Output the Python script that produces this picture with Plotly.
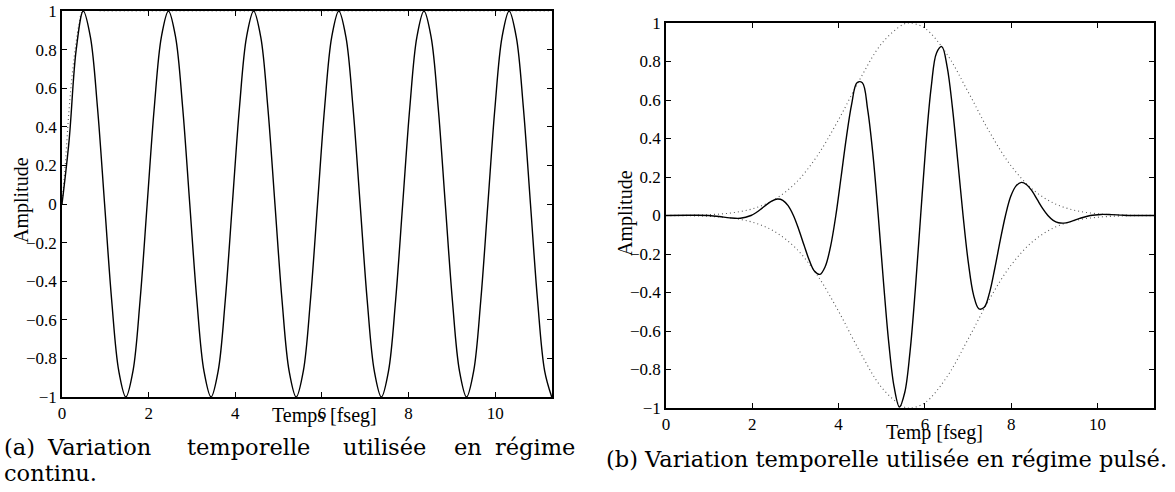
import plotly.graph_objects as go

W, H = 1175, 492

# ---------------- data ----------------
x_ticks = [0, 2, 4, 6, 8, 10]
y_ticks = [-1, -0.8, -0.6, -0.4, -0.2, 0, 0.2, 0.4, 0.6, 0.8, 1]
y_tick_text = ["\u22121", "\u22120.8", "\u22120.6", "\u22120.4", "\u22120.2", "0",
               "0.2", "0.4", "0.6", "0.8", "1"]
x_max = 11.31

# (a) continuous regime: field (solid) and switch-on envelope (dotted)
cw_t = [0.000, 0.164, 0.328, 0.491, 0.655, 0.819, 0.983, 1.147, 1.311, 1.474, 1.638, 1.802,
        1.966, 2.130, 2.294, 2.457, 2.621, 2.785, 2.949, 3.113, 3.277, 3.440, 3.604, 3.768,
        3.932, 4.096, 4.260, 4.423, 4.587, 4.751, 4.915, 5.079, 5.243, 5.406, 5.570, 5.734,
        5.898, 6.062, 6.226, 6.389, 6.553, 6.717, 6.881, 7.045, 7.209, 7.372, 7.536, 7.700,
        7.864, 8.028, 8.192, 8.355, 8.519, 8.683, 8.847, 9.011, 9.175, 9.338, 9.502, 9.666,
        9.830, 9.994, 10.158, 10.321, 10.485, 10.649, 10.813, 10.977, 11.141, 11.304]
cw_amp = [0, 0.33, 0.80, 1, 0.866, 0.5, 0, -0.5, -0.866, -1, -0.866, -0.5,
          0, 0.5, 0.866, 1, 0.866, 0.5, 0, -0.5, -0.866, -1, -0.866, -0.5,
          0, 0.5, 0.866, 1, 0.866, 0.5, 0, -0.5, -0.866, -1, -0.866, -0.5,
          0, 0.5, 0.866, 1, 0.866, 0.5, 0, -0.5, -0.866, -1, -0.866, -0.5,
          0, 0.5, 0.866, 1, 0.866, 0.5, 0, -0.5, -0.866, -1, -0.866, -0.5,
          0, 0.5, 0.866, 1, 0.866, 0.5, 0, -0.5, -0.866, -1]
cw_env_t = [0, 0.08, 0.16, 0.24, 0.32, 0.40, 0.48, 1.0, 11.31]
cw_env = [0, 0.22, 0.48, 0.68, 0.83, 0.94, 1.0, 1.0, 1.0]

# (b) pulsed regime: field (solid) and Gaussian envelope (dotted)
pl_t = [0.0, 0.495, 0.741, 0.987, 1.232, 1.478, 1.724, 1.970, 2.092, 2.215, 2.338, 2.461,
        2.584, 2.707, 2.830, 2.953, 3.075, 3.198, 3.321, 3.444, 3.567, 3.690, 3.813,
        3.936, 4.058, 4.181, 4.304, 4.427, 4.550, 4.673, 4.796, 4.919, 5.041, 5.164,
        5.287, 5.410, 5.533, 5.656, 5.779, 5.902, 6.024, 6.147, 6.270, 6.393, 6.516,
        6.639, 6.762, 6.885, 7.007, 7.130, 7.253, 7.376, 7.499, 7.622, 7.745, 7.868,
        7.990, 8.113, 8.236, 8.359, 8.482, 8.605, 8.728, 8.851, 8.973, 9.096, 9.219,
        9.342, 9.588, 9.834, 10.079, 10.325, 10.571, 10.817, 11.31]
pl_amp = [0, 0.0012, 0.0016, 0, -0.0051, -0.0124, -0.0144, 0, 0.0156, 0.0358, 0.0576,
          0.0762, 0.0854, 0.0788, 0.0510, 0, -0.0712, -0.1535, -0.2326, -0.2897, -0.3058,
          -0.2653, -0.1617, 0, 0.2001, 0.4062, 0.5796, 0.690, 0.690, 0.5514, 0.3164, 0,
          -0.3470, -0.6632, -0.8907, -0.995, -0.9197, -0.707, -0.3819, 0, 0.3712, 0.6678,
          0.8444, 0.8775, 0.7726, 0.5592, 0.2843, 0, -0.2449, -0.4149, -0.485, -0.477,
          -0.4005, -0.2728, -0.1306, 0, 0.0997, 0.154, 0.172, 0.160, 0.1280, 0.0821,
          0.0370, 0, -0.0250, -0.0375, -0.0396, -0.0344, -0.0153, 0, 0.0055, 0.0044,
          0.0017, 0, 0]
env_t = [0, 0.5, 1.0, 1.5, 2.0, 2.5, 3.0, 3.5, 4.0, 4.5, 5.0, 5.5, 5.67, 6.0, 6.5, 7.0,
         7.5, 8.0, 8.5, 9.0, 9.5, 10.0, 10.5, 11.0, 11.31]
env_up = [0.0003, 0.0013, 0.0043, 0.0130, 0.0345, 0.0810, 0.168, 0.308, 0.498, 0.710,
          0.894, 0.993, 1.0, 0.973, 0.842, 0.643, 0.433, 0.257, 0.135, 0.0625, 0.0255,
          0.0092, 0.0029, 0.0008, 0.0004]
env_low = [-0.0003, -0.0013, -0.0043, -0.0130, -0.0345, -0.0810, -0.168, -0.308, -0.498,
           -0.710, -0.894, -0.993, -1.0, -0.973, -0.842, -0.643, -0.433, -0.257, -0.135,
           -0.0625, -0.0255, -0.0092, -0.0029, -0.0008, -0.0004]

x_title_a = "Temps [fseg]"
x_title_b = "Temp [fseg]"
y_title = "Amplitude"
caption_a_words = ["(a)", "Variation", "temporelle", "utilisée", "en", "régime"]
caption_a_line2 = "continu."
caption_b = "(b) Variation temporelle utilisée en régime pulsé."

# ---------------- figure ----------------
def px_x(p):
    return p / W

def px_y(p):
    return 1 - p / H

DOT = dict(color="#5a5a5a", width=1.1, dash="1px,3px", shape="spline")
SOLID = dict(color="black", width=1.4, shape="spline")

fig = go.Figure()
fig.add_trace(go.Scatter(x=cw_env_t, y=cw_env, mode="lines", line=DOT,
                         xaxis="x", yaxis="y"))
fig.add_trace(go.Scatter(x=cw_t, y=cw_amp, mode="lines", line=SOLID, xaxis="x", yaxis="y"))
fig.add_trace(go.Scatter(x=env_t, y=env_up, mode="lines", line=DOT,
                         xaxis="x2", yaxis="y2"))
fig.add_trace(go.Scatter(x=env_t, y=env_low, mode="lines", line=DOT,
                         xaxis="x2", yaxis="y2"))
fig.add_trace(go.Scatter(x=pl_t, y=pl_amp, mode="lines", line=SOLID, xaxis="x2", yaxis="y2"))

SERIF = "Liberation Serif, Times New Roman, serif"
tickfont = dict(family=SERIF, size=17, color="black")
common_x = dict(range=[0, x_max], tickvals=x_ticks, ticks="inside", ticklen=5,
                tickcolor="black", tickwidth=1, showline=True, linecolor="black",
                linewidth=1.5, mirror="ticks", showgrid=False, zeroline=False,
                tickfont=tickfont, automargin=False)
common_y = dict(range=[-1, 1], tickvals=y_ticks, ticktext=y_tick_text, ticks="inside",
                ticklen=5, tickcolor="black", tickwidth=1, showline=True,
                linecolor="black", linewidth=1.5, mirror="ticks", showgrid=False,
                zeroline=False, tickfont=tickfont, automargin=False)

fig.update_layout(
    template="none",
    width=W, height=H,
    margin=dict(l=0, r=0, t=0, b=0, autoexpand=False),
    paper_bgcolor="white", plot_bgcolor="white",
    showlegend=False,
    xaxis=dict(domain=[px_x(62), px_x(552)], anchor="y", **common_x),
    yaxis=dict(domain=[px_y(397), px_y(11)], anchor="x", **common_y),
    xaxis2=dict(domain=[px_x(666), px_x(1154)], anchor="y2", **common_x),
    yaxis2=dict(domain=[px_y(408), px_y(23)], anchor="x2", **common_y),
)

title_font = dict(family=SERIF, size=20, color="black")
ann = [
    dict(text=y_title, x=px_x(21), y=px_y(200), textangle=-90, font=title_font),
    dict(text=y_title, x=px_x(626), y=px_y(213), textangle=-90, font=title_font),
    dict(text=x_title_a, x=px_x(324), y=px_y(415), font=title_font),
    dict(text=x_title_b, x=px_x(934), y=px_y(432), font=title_font),
]

cap_font = dict(family="DejaVu Serif", size=22.5, color="black")
cap_pos = [(2, "left"), (99, "center"), (248, "center"), (384, "center"),
           (468, "center"), (577, "right")]
for word, (xp, anchor) in zip(caption_a_words, cap_pos):
    ann.append(dict(text=word, x=px_x(xp), y=px_y(447), xanchor=anchor, font=cap_font))
ann.append(dict(text=caption_a_line2, x=px_x(2), y=px_y(473), xanchor="left", font=cap_font))
ann.append(dict(text=caption_b, x=px_x(886), y=px_y(459), xanchor="center", font=cap_font))

for a in ann:
    a.setdefault("xanchor", "center")
    a.update(xref="paper", yref="paper", yanchor="middle", showarrow=False)
fig.update_layout(annotations=ann)

# the page's default 8px body margin would shift the whole figure; remove it
fig.write_html("out.html", config={"displayModeBar": False},
               post_script="document.body.style.margin='0';")
